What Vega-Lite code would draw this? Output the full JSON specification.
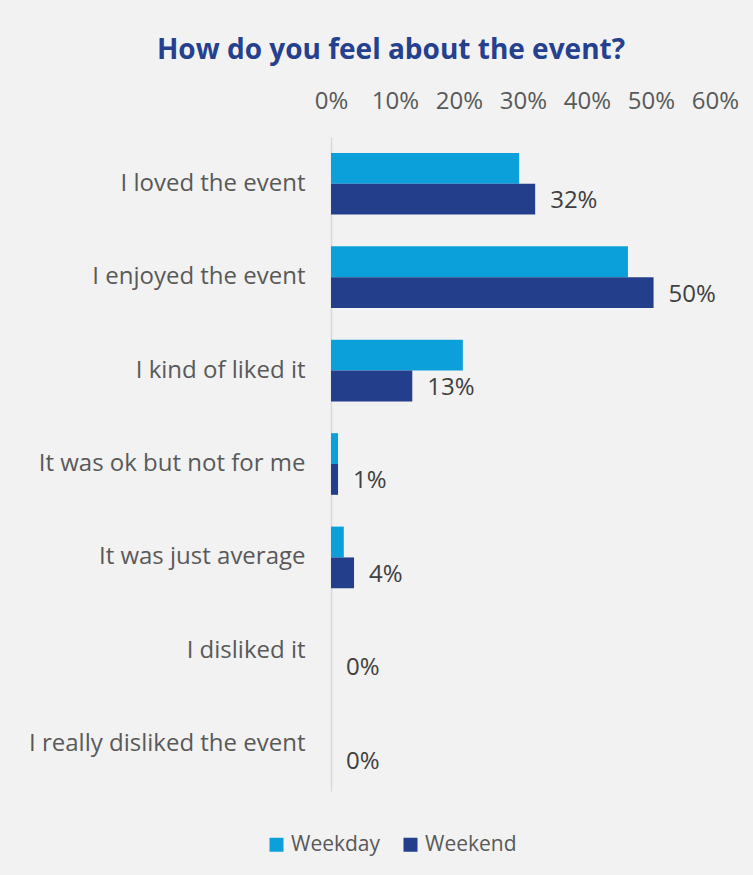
{
  "$schema": "https://vega.github.io/schema/vega-lite/v6.json",
  "autosize": {"type": "none"},
  "padding": {"left": 331, "top": 137, "right": 38, "bottom": 84},
  "width": 384,
  "height": 654,
  "background": "#f2f2f2",
  "title": {
    "text": "How do you feel about the event?",
    "font": "Open Sans",
    "fontSize": 28,
    "fontWeight": "bold",
    "color": "#24408e",
    "anchor": "middle",
    "dx": -132,
    "offset": 24
  },
  "data": {
    "values": [
      {"answer": "I loved the event", "group": "Weekday", "value": 0.294},
      {"answer": "I loved the event", "group": "Weekend", "value": 0.319},
      {"answer": "I enjoyed the event", "group": "Weekday", "value": 0.464},
      {"answer": "I enjoyed the event", "group": "Weekend", "value": 0.504},
      {"answer": "I kind of liked it", "group": "Weekday", "value": 0.206},
      {"answer": "I kind of liked it", "group": "Weekend", "value": 0.127},
      {"answer": "It was ok but not for me", "group": "Weekday", "value": 0.011},
      {"answer": "It was ok but not for me", "group": "Weekend", "value": 0.011},
      {"answer": "It was just average", "group": "Weekday", "value": 0.02},
      {"answer": "It was just average", "group": "Weekend", "value": 0.036},
      {"answer": "I disliked it", "group": "Weekday", "value": 0},
      {"answer": "I disliked it", "group": "Weekend", "value": 0},
      {"answer": "I really disliked the event", "group": "Weekday", "value": 0},
      {"answer": "I really disliked the event", "group": "Weekend", "value": 0}
    ]
  },
  "encoding": {
    "y": {
      "field": "answer",
      "type": "nominal",
      "sort": null,
      "title": null,
      "scale": {"paddingInner": 0.34, "paddingOuter": 0.17},
      "axis": {
        "ticks": false,
        "domainColor": "#d9d9d9",
        "domainWidth": 1.5,
        "labelFont": "Open Sans",
        "labelFontSize": 24,
        "labelColor": "#595959",
        "labelPadding": 26,
        "labelLimit": 400
      }
    },
    "x": {
      "field": "value",
      "type": "quantitative",
      "title": null,
      "scale": {"domain": [0, 0.6], "nice": false},
      "axis": {
        "orient": "top",
        "format": ".0%",
        "values": [0, 0.1, 0.2, 0.3, 0.4, 0.5, 0.6],
        "grid": false,
        "ticks": false,
        "domain": false,
        "labelFont": "Open Sans",
        "labelFontSize": 24,
        "labelColor": "#595959",
        "labelPadding": 24,
        "labelFlush": false,
        "labelBound": false,
        "labelOverlap": false
      }
    },
    "yOffset": {"field": "group", "type": "nominal", "sort": ["Weekday", "Weekend"]}
  },
  "layer": [
    {
      "mark": {"type": "bar"},
      "encoding": {
        "color": {
          "field": "group",
          "type": "nominal",
          "scale": {"domain": ["Weekday", "Weekend"], "range": ["#0ca0da", "#233e8b"]},
          "legend": {
            "title": null,
            "orient": "none",
            "direction": "horizontal",
            "legendX": -65,
            "legendY": 697,
            "symbolType": "square",
            "symbolSize": 196,
            "symbolStrokeWidth": 0,
            "labelFont": "Open Sans",
            "labelFontSize": 21,
            "labelColor": "#595959",
            "columnPadding": 19,
            "labelOffset": 4
          }
        }
      }
    },
    {
      "transform": [{"filter": "datum.group === 'Weekend'"}],
      "mark": {"type": "text", "align": "left", "baseline": "middle", "dx": 15, "dy": 2, "font": "Open Sans", "fontSize": 24, "color": "#404040"},
      "encoding": {
        "text": {"field": "value", "type": "quantitative", "format": ".0%"}
      }
    }
  ],
  "config": {"view": {"stroke": null}}
}
